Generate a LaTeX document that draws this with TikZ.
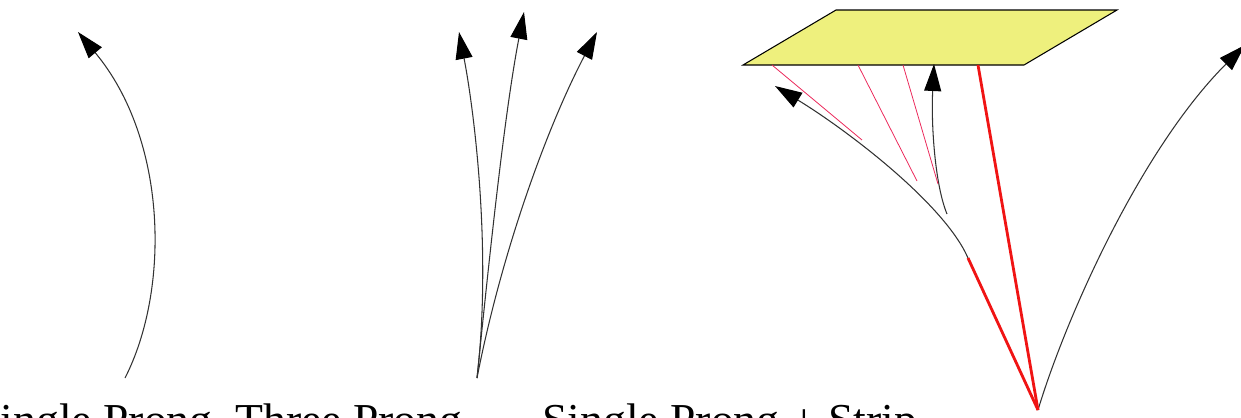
\documentclass[tikz,border=0pt]{standalone}
\usepackage{fontspec}
\setmainfont{Liberation Serif}
\usetikzlibrary{arrows.meta}
\definecolor{stripyellow}{RGB}{238,240,125}
\definecolor{prongline}{RGB}{50,50,50}
\definecolor{pinkline}{RGB}{235,40,90}
\definecolor{redline}{RGB}{240,20,20}
\begin{document}
\begin{tikzpicture}[x={(0.02cm,0)},y={(0,-0.02cm)},
  prong/.style={draw=prongline,line width=0.6pt,-{Triangle[length=0.54cm,width=0.34cm,fill=black,color=black]}},
  stem/.style={draw=prongline,line width=0.6pt},
  tie/.style={draw=pinkline,line width=0.45pt},
  redtie/.style={draw=redline,line width=1.6pt},
  strip/.style={draw=black,line width=0.6pt,fill=stripyellow},
  lbl/.style={font=\fontsize{26}{30}\selectfont,inner sep=0pt}]
\useasboundingbox (0,0) rectangle (1241,417);
\clip (0,0) rectangle (1241,417);
% single prong
\coordinate (sb) at (125,378);
\coordinate (st) at (78,32);
\draw[prong] (sb) .. controls (170,290) and (168,140) .. (st);
% three prong
\coordinate (tb) at (477,378);
\coordinate (t1) at (459,32);
\coordinate (t2) at (524,12);
\coordinate (t3) at (597,32);
\draw[prong] (tb) .. controls (492,250) and (474,110) .. (t1);
\draw[prong] (tb) .. controls (490,250) and (505,110) .. (t2);
\draw[prong] (tb) .. controls (502,250) and (548,125) .. (t3);
% strip
\coordinate (p1) at (743,65);
\coordinate (p2) at (836,10);
\coordinate (p3) at (1117,10);
\coordinate (p4) at (1024,65);
\draw[strip] (p1) -- (p2) -- (p3) -- (p4) -- cycle;
% single prong + strip
\coordinate (bb) at (1038,410);
\coordinate (j1) at (968,258);
\coordinate (j2) at (947,214);
\coordinate (mt) at (775,86);
\coordinate (bt) at (934,64);
\coordinate (rt) at (1245,45);
\draw[stem] (bb) -- (j1);
\draw[prong] (j1) .. controls (945,205) and (850,132) .. (mt);
\draw[prong] (j2) .. controls (935,185) and (931,125) .. (bt);
\draw[prong] (bb) .. controls (1065,320) and (1140,150) .. (rt);
% ties to the strip
\coordinate (a1) at (772,65);
\coordinate (a2) at (858,65);
\coordinate (a3) at (903,65);
\coordinate (a4) at (978,65);
\coordinate (e1) at (862,140);
\coordinate (e2) at (917,181);
\coordinate (e3) at (938,184);
\draw[tie] (a1) -- (e1);
\draw[tie] (a2) -- (e2);
\draw[tie] (a3) -- (e3);
\draw[redtie] (a4) -- (bb);
\draw[redtie] (j1) -- (bb);
% labels
\node[lbl,anchor=base east] (l1) at (213,435) {Single Prong};
\node[lbl,anchor=base west] (l2) at (235,435) {Three Prong};
\node[lbl,anchor=base west] (l3) at (542,435) {Single Prong + Strip};
\end{tikzpicture}
\end{document}
